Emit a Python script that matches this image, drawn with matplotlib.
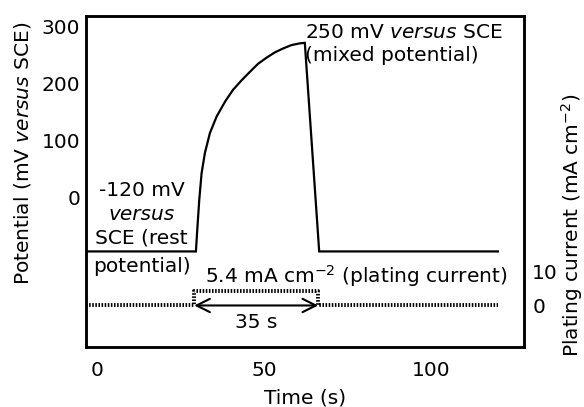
import matplotlib
matplotlib.use("Agg")
import matplotlib.pyplot as plt

plt.rcParams['font.family'] = ['DejaVu Sans']
plt.rcParams['mathtext.fontset'] = 'dejavusans'
FS = 14.5

# Potential transient (mV vs SCE)
pot_time = [-3.5, 29.5, 29.9, 30.5, 31.2, 32.2, 33.7, 35.7, 38.2, 40.6, 43.2, 45.7,
            48.1, 50.7, 53.1, 55.6, 58.1, 60.6, 62.1, 66.4, 119.9]
pot_mv = [-96, -96, -58, -5, 42, 78, 113, 142, 168, 189, 206, 221,
          235, 246, 255, 262, 268, 271, 272, -96, -96]

# Plating current (mA cm^-2)
cur_time = [-3.5, 29.0, 29.0, 66.1, 66.1, 119.9]
cur_val = [0, 0, 4.2, 4.2, 0, 0]

x_ticks = [0, 50, 100]
pot_ticks = [0, 100, 200, 300]
cur_ticks = [0, 10]

fig = plt.figure(figsize=(5.84, 4.07), dpi=100)
ax = fig.add_axes([0.1467, 0.1474, 0.7505, 0.814])
ax2 = ax.twinx()

ax.plot(pot_time, pot_mv, color='black', lw=1.6, solid_joinstyle='miter')
ax2.plot(cur_time, cur_val, color='black', lw=2.8, linestyle=(0, (0.4, 0.4)))

ax.set_xlim(-3.5, 127.7)
ax.set_ylim(-264.6, 319.8)
ax2.set_ylim(-12.4, 86.5)

ax.set_xticks(x_ticks)
ax.set_yticks(pot_ticks)
ax2.set_yticks(cur_ticks)
ax.tick_params(axis='x', length=0, pad=10, labelsize=FS)
ax.tick_params(axis='y', length=0, pad=4, labelsize=FS)
ax2.tick_params(axis='y', length=0, pad=6, labelsize=FS)

for a in (ax, ax2):
    for s in a.spines.values():
        s.set_linewidth(1.8)

ax.set_xlabel('Time (s)', fontsize=FS, labelpad=6)
ax.set_ylabel(r'Potential (mV $\mathit{versus}$ SCE)', fontsize=FS, ha='center', va='center')
ax.yaxis.set_label_coords(-0.143, 0.585)
ax2.set_ylabel(r'Plating current (mA cm$^{-2}$)', fontsize=FS, ha='center', va='center', rotation=90)
ax2.yaxis.set_label_coords(1.1095, 0.368)

# double arrow spanning the plating period
t_on, t_off = cur_time[2], cur_time[3]
ax2.annotate('', xy=(t_on, cur_val[0]), xytext=(t_off, cur_val[0]),
             arrowprops=dict(arrowstyle='<->', lw=1.5, color='black',
                             shrinkA=0, shrinkB=0, mutation_scale=24))
ax2.text((t_on + t_off) / 2, -5.2, '35 s', fontsize=FS, ha='center', va='center')
ax2.text(32.2, 6.7, r'5.4 mA cm$^{-2}$ (plating current)', fontsize=FS, ha='left', va='baseline')

# annotations on potential axis
ax.text(13.3, 12, '-120 mV', fontsize=FS, ha='center', va='center')
ax.text(13.3, -30, 'versus', fontsize=FS, ha='center', va='center', style='italic')
ax.text(13.3, -72, 'SCE (rest', fontsize=FS, ha='center', va='center')
ax.text(13.3, -123, 'potential)', fontsize=FS, ha='center', va='center')

ax.text(62.2, 291, r'250 mV $\mathit{versus}$ SCE', fontsize=FS, ha='left', va='center')
ax.text(62.2, 250, '(mixed potential)', fontsize=FS, ha='left', va='center')

fig.savefig('out.png', dpi=100)
